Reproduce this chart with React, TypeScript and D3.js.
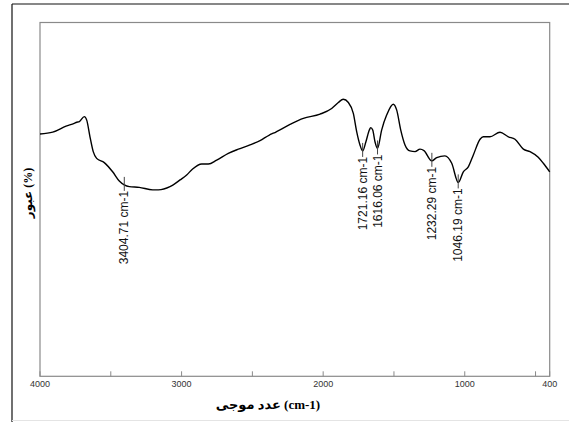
import * as d3 from "d3";

// wavenumber (cm-1) and transmittance (%, arbitrary scale)
const wavenumbers = [
  4000, 3910, 3816, 3758, 3741, 3722, 3687, 3670, 3647, 3624, 3600, 3546, 3487, 3440, 3405,
  3369, 3299, 3204, 3164, 3082, 3011, 2964, 2922, 2858, 2811, 2752, 2670, 2599, 2517, 2446,
  2380, 2352, 2234, 2140, 2022, 1940, 1893, 1858, 1822, 1787, 1763, 1740, 1721, 1698, 1674,
  1664, 1650, 1634, 1616, 1587, 1551, 1505, 1481, 1452, 1422, 1387, 1351, 1316, 1288, 1233,
  1198, 1140, 1092, 1046, 1010, 975, 940, 892, 869, 822, 751, 692, 645, 586, 539, 481, 445, 400,
];
const transmittance = [
  68.5, 69.0, 70.7, 71.5, 71.8, 72.0, 73.4, 72.4, 67.7, 63.5, 61.6, 60.4, 57.8, 55.2, 54.1,
  53.6, 53.4, 52.7, 52.7, 53.6, 55.5, 56.9, 58.6, 60.0, 60.0, 61.1, 63.0, 64.2, 65.4, 66.6,
  68.2, 68.7, 71.2, 72.9, 74.1, 75.7, 77.4, 78.3, 77.4, 74.3, 69.1, 65.4, 63.7, 66.3, 69.6,
  70.3, 69.6, 66.3, 64.4, 69.6, 73.9, 76.9, 75.3, 69.6, 65.4, 63.7, 63.5, 64.2, 63.8, 60.9,
  61.8, 62.3, 60.2, 54.8, 57.8, 59.2, 62.5, 67.0, 67.7, 67.7, 69.0, 67.7, 67.0, 64.2, 63.5,
  61.9, 60.2, 57.8,
];

// labelled peaks
const peakWavenumbers = [3404.71, 1721.16, 1616.06, 1232.29, 1046.19];
const peakTransmittance = [54.1, 63.7, 64.4, 60.9, 54.8];

// axis ticks
const majorTicks = [4000, 3000, 2000, 1000, 400];
const minorTicks = [3500, 2500, 1500, 500];

const W = 569;
const H = 422;
const margin = { left: 40, right: 19.3, top: 22.5, bottom: 45.7 };

export default function App() {
  const x = d3.scaleLinear().domain([4000, 400]).range([margin.left, W - margin.right]);
  const y = d3.scaleLinear().domain([0, 100]).range([H - margin.bottom, margin.top]);

  const points: [number, number][] = wavenumbers.map((w, i) => [w, transmittance[i]]);
  const line = d3
    .line<[number, number]>()
    .x((d) => x(d[0]))
    .y((d) => y(d[1]))
    .curve(d3.curveMonotoneX);

  const x0 = x(4000);
  const x1 = x(400);
  const yTop = y(100);
  const yBot = y(0);

  return (
    <div style={{ position: "fixed", left: 0, top: 0 }}>
      <svg width={W} height={H} style={{ display: "block", background: "#fff" }}>
        {/* outer frame */}
        <line x1={12} y1={4} x2={W} y2={4} stroke="#111" strokeWidth={1.2} />
        <line x1={12} y1={4} x2={12} y2={H} stroke="#111" strokeWidth={1.2} />
        <line x1={12} y1={420.5} x2={W} y2={420.5} stroke="#e4e4e4" strokeWidth={1} />

        {/* plot frame */}
        <rect x={x0} y={yTop} width={x1 - x0} height={yBot - yTop} fill="none" stroke="#8a8a8a" strokeWidth={1.2} />

        {/* ticks */}
        {[...majorTicks, ...minorTicks].map((t) => (
          <line key={t} x1={x(t)} x2={x(t)} y1={yBot} y2={yBot - 5} stroke="#8a8a8a" strokeWidth={1} />
        ))}
        {majorTicks.map((t) => (
          <text
            key={t}
            x={x(t)}
            y={yBot + 11}
            textAnchor="middle"
            fontFamily="Arial, Liberation Sans, sans-serif"
            fontSize={9}
            fill="#333"
          >
            {t}
          </text>
        ))}

        {/* spectrum */}
        <path d={line(points) ?? ""} fill="none" stroke="#000" strokeWidth={1.4} />

        {/* peak markers */}
        {peakWavenumbers.map((p, i) => {
          const px = x(p);
          const py = y(peakTransmittance[i]);
          return (
            <g key={p}>
              <line x1={px} x2={px} y1={py - 8} y2={py + 6} stroke="#444" strokeWidth={1} />
              <text
                transform={`translate(${px},${py + 6}) rotate(-90)`}
                textAnchor="end"
                dy="0.35em"
                fontFamily="Arial, Liberation Sans, sans-serif"
                fontSize={12}
                fill="#111"
              >
                {`${p.toFixed(2)} cm-1`}
              </text>
            </g>
          );
        })}

        {/* axis titles */}
        <text
          x={268}
          y={409}
          textAnchor="middle"
          fontFamily="Liberation Serif, Times New Roman, DejaVu Sans, serif"
          fontWeight="bold"
          fontSize={13}
          fill="#000"
        >
          عدد موجی (cm-1)
        </text>
        <text
          transform="translate(28,193) rotate(-90)"
          textAnchor="middle"
          dy="0.35em"
          fontFamily="Liberation Serif, DejaVu Sans, serif"
          fontWeight="bold"
          fontSize={12}
          fill="#000"
        >
          عبور (%)
        </text>
      </svg>
    </div>
  );
}
